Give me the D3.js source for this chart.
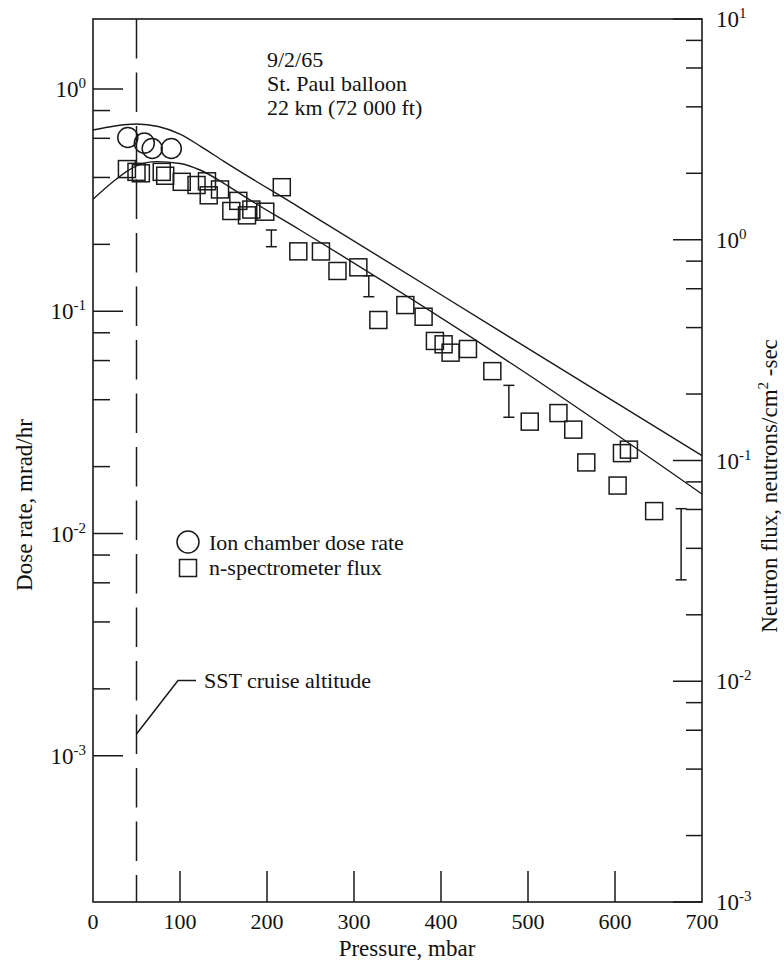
<!DOCTYPE html>
<html><head><meta charset="utf-8">
<script src="https://cdn.jsdelivr.net/npm/d3@7"></script>
<style>
body{margin:0;background:#fff}
svg{display:block}
</style>
</head><body><svg id="c" width="784" height="965" font-family="'Liberation Serif', 'Times New Roman', Tinos, Times, serif"></svg>
<script>
// ---------- data ----------
const xTicks = [0,100,200,300,400,500,600,700];
const innerXTicks = [100,200,300,400,500,600];
const leftExps = [0,-1,-2,-3];
const rightExps = [1,0,-1,-2,-3];
const minorMults = [2,4,6,8];

// ion chamber dose rate (left axis, mrad/hr)
const circlePressure = [40,59,68,90];
const circleDose = [0.605,0.571,0.540,0.540];

// n-spectrometer flux (right axis, neutrons/cm2-sec)
const squarePressure = [39,50,55,79,83,102,119,131,133,146,159,167,177,182,198,217,236,262,281,305,328,359,380,393,403,411,431,459,502,535,552,567,603,608,616,645];
const squareFlux = [2.09,2.03,2.0,2.03,1.95,1.83,1.77,1.84,1.59,1.69,1.35,1.50,1.29,1.37,1.34,1.73,0.886,0.885,0.722,0.750,0.433,0.506,0.448,0.348,0.336,0.308,0.320,0.254,0.150,0.164,0.138,0.098,0.077,0.108,0.112,0.059];

// error bars (flux)
const errPressure = [205,317,478,676];
const errLow = [0.930,0.552,0.157,0.0288];
const errHigh = [1.107,0.687,0.219,0.0605];

// calculated curves
const doseCurvePressure = [0,25,50,75,100,125,150,238,491,700];
const doseCurve = [0.654,0.682,0.696,0.678,0.627,0.548,0.474,0.292,0.0715,0.0224];
const fluxCurvePressure = [0,23,50,73,100,123,150,173,238,491,700];
const fluxCurve = [1.525,1.832,2.159,2.258,2.215,2.070,1.807,1.579,1.107,0.259,0.0705];

const sstPressure = 50;

// ---------- layout ----------
const L = 93, R = 702, T = 19, B = 902;
const ink = "#1a1a1a";
const txt = "#111";
const svg = d3.select("#c");

const x = d3.scaleLinear().domain([0,700]).range([L,R]);
const yL = d3.scaleLog().domain([Math.pow(10,-3.658), Math.pow(10,0.315)]).range([B,T]);
const yR = d3.scaleLog().domain([1e-3, 10]).range([B,T]);

// frame
svg.append("rect").attr("x",L).attr("y",T).attr("width",R-L).attr("height",B-T)
  .attr("fill","none").attr("stroke",ink).attr("stroke-width",1.6);

// x ticks (inward)
svg.selectAll(".xt").data(innerXTicks).enter().append("line")
  .attr("x1",d=>x(d)).attr("x2",d=>x(d)).attr("y1",B).attr("y2",B-31)
  .attr("stroke",ink).attr("stroke-width",1.5);
svg.selectAll(".xl").data(xTicks).enter().append("text")
  .attr("x",d=>x(d)).attr("y",929).attr("text-anchor","middle").attr("fill",txt)
  .attr("font-size",22).text(d=>d);
svg.append("text").attr("x",407).attr("y",956).attr("text-anchor","middle").attr("fill",txt)
  .attr("font-size",23).text("Pressure, mbar");

// left axis ticks
const leftMinor = [];
[-3,-2,-1].forEach(e=>minorMults.forEach(m=>leftMinor.push(m*Math.pow(10,e))));
svg.selectAll(".lmaj").data(leftExps).enter().append("line")
  .attr("x1",L).attr("x2",L+30).attr("y1",d=>yL(Math.pow(10,d))).attr("y2",d=>yL(Math.pow(10,d)))
  .attr("stroke",ink).attr("stroke-width",1.5);
svg.selectAll(".lmin").data(leftMinor).enter().append("line")
  .attr("x1",L).attr("x2",L+17).attr("y1",d=>yL(d)).attr("y2",d=>yL(d))
  .attr("stroke",ink).attr("stroke-width",1.5);
leftExps.forEach(e=>{
  const t = svg.append("text").attr("x",86).attr("y",yL(Math.pow(10,e))+8)
    .attr("text-anchor","end").attr("font-size",23).attr("fill",txt);
  t.append("tspan").text("10");
  t.append("tspan").attr("font-size",15).attr("dy",-9).text(e);
});

// right axis ticks
const rightMinor = [];
[-3,-2,-1,0].forEach(e=>minorMults.forEach(m=>rightMinor.push(m*Math.pow(10,e))));
svg.selectAll(".rmaj").data(rightExps).enter().append("line")
  .attr("x1",R).attr("x2",R-29).attr("y1",d=>yR(Math.pow(10,d))).attr("y2",d=>yR(Math.pow(10,d)))
  .attr("stroke",ink).attr("stroke-width",1.5);
svg.selectAll(".rmin").data(rightMinor).enter().append("line")
  .attr("x1",R).attr("x2",R-16).attr("y1",d=>yR(d)).attr("y2",d=>yR(d))
  .attr("stroke",ink).attr("stroke-width",1.5);
rightExps.forEach(e=>{
  const t = svg.append("text").attr("x",716).attr("y",yR(Math.pow(10,e))+8)
    .attr("text-anchor","start").attr("font-size",23).attr("fill",txt);
  t.append("tspan").text("10");
  t.append("tspan").attr("font-size",15).attr("dy",-9).text(e);
});

// axis titles
svg.append("text").attr("transform","translate(32,505) rotate(-90)").attr("fill",txt)
  .attr("text-anchor","middle").attr("font-size",23).text("Dose rate, mrad/hr");
const rt = svg.append("text").attr("transform","translate(777,486) rotate(-90)").attr("fill",txt)
  .attr("text-anchor","middle").attr("font-size",23);
rt.append("tspan").text("Neutron flux, neutrons/cm");
rt.append("tspan").attr("font-size",15).attr("dy",-9).text("2");
rt.append("tspan").attr("dy",9).text(" -sec");

// SST dashed line
svg.append("line").attr("x1",x(sstPressure)).attr("x2",x(sstPressure)).attr("y1",T).attr("y2",B)
  .attr("stroke",ink).attr("stroke-width",1.5).attr("stroke-dasharray","39.5,14");

// curves
const lineL = d3.line().x(d=>x(d[0])).y(d=>yL(d[1])).curve(d3.curveMonotoneX);
const lineR = d3.line().x(d=>x(d[0])).y(d=>yR(d[1])).curve(d3.curveMonotoneX);
svg.append("path").attr("d",lineL(d3.zip(doseCurvePressure,doseCurve)))
  .attr("fill","none").attr("stroke",ink).attr("stroke-width",1.4);
svg.append("path").attr("d",lineR(d3.zip(fluxCurvePressure,fluxCurve)))
  .attr("fill","none").attr("stroke",ink).attr("stroke-width",1.4);

// error bars
const eb = d3.zip(errPressure,errLow,errHigh);
const ebG = svg.selectAll(".eb").data(eb).enter().append("g");
ebG.append("line").attr("x1",d=>x(d[0])).attr("x2",d=>x(d[0]))
  .attr("y1",d=>yR(d[1])).attr("y2",d=>yR(d[2])).attr("stroke",ink).attr("stroke-width",1.5);
ebG.append("line").attr("x1",d=>x(d[0])-5.5).attr("x2",d=>x(d[0])+5.5)
  .attr("y1",d=>yR(d[1])).attr("y2",d=>yR(d[1])).attr("stroke",ink).attr("stroke-width",1.5);
ebG.append("line").attr("x1",d=>x(d[0])-5.5).attr("x2",d=>x(d[0])+5.5)
  .attr("y1",d=>yR(d[2])).attr("y2",d=>yR(d[2])).attr("stroke",ink).attr("stroke-width",1.5);

// squares
const S = 17;
svg.selectAll(".sq").data(d3.zip(squarePressure,squareFlux)).enter().append("rect")
  .attr("x",d=>x(d[0])-S/2).attr("y",d=>yR(d[1])-S/2).attr("width",S).attr("height",S)
  .attr("fill","none").attr("stroke",ink).attr("stroke-width",1.5);

// circles
svg.selectAll(".ci").data(d3.zip(circlePressure,circleDose)).enter().append("circle")
  .attr("cx",d=>x(d[0])).attr("cy",d=>yL(d[1])).attr("r",10)
  .attr("fill","none").attr("stroke",ink).attr("stroke-width",1.5);

// top annotation
const note = ["9/2/65","St. Paul balloon","22 km (72 000 ft)"];
svg.selectAll(".note").data(note).enter().append("text").attr("fill",txt)
  .attr("x",x(200)).attr("y",(d,i)=>67+i*24).attr("font-size",22).text(d=>d);

// legend
svg.append("circle").attr("cx",188).attr("cy",542).attr("r",11)
  .attr("fill","none").attr("stroke",ink).attr("stroke-width",1.5);
svg.append("rect").attr("x",188-8.5).attr("y",568-8.5).attr("width",17).attr("height",17)
  .attr("fill","none").attr("stroke",ink).attr("stroke-width",1.5);
svg.append("text").attr("x",209).attr("y",550).attr("font-size",22).attr("fill",txt).text("Ion chamber dose rate");
svg.append("text").attr("x",209).attr("y",575).attr("font-size",22).attr("fill",txt).text("n-spectrometer flux");

// SST callout
const xs = x(sstPressure);
svg.append("path").attr("d",`M${xs},734 L178,680.5 L196,680.5`)
  .attr("fill","none").attr("stroke",ink).attr("stroke-width",1.5);
svg.append("text").attr("x",204).attr("y",688).attr("font-size",22).attr("fill",txt).text("SST cruise altitude");
</script>
</body></html>
